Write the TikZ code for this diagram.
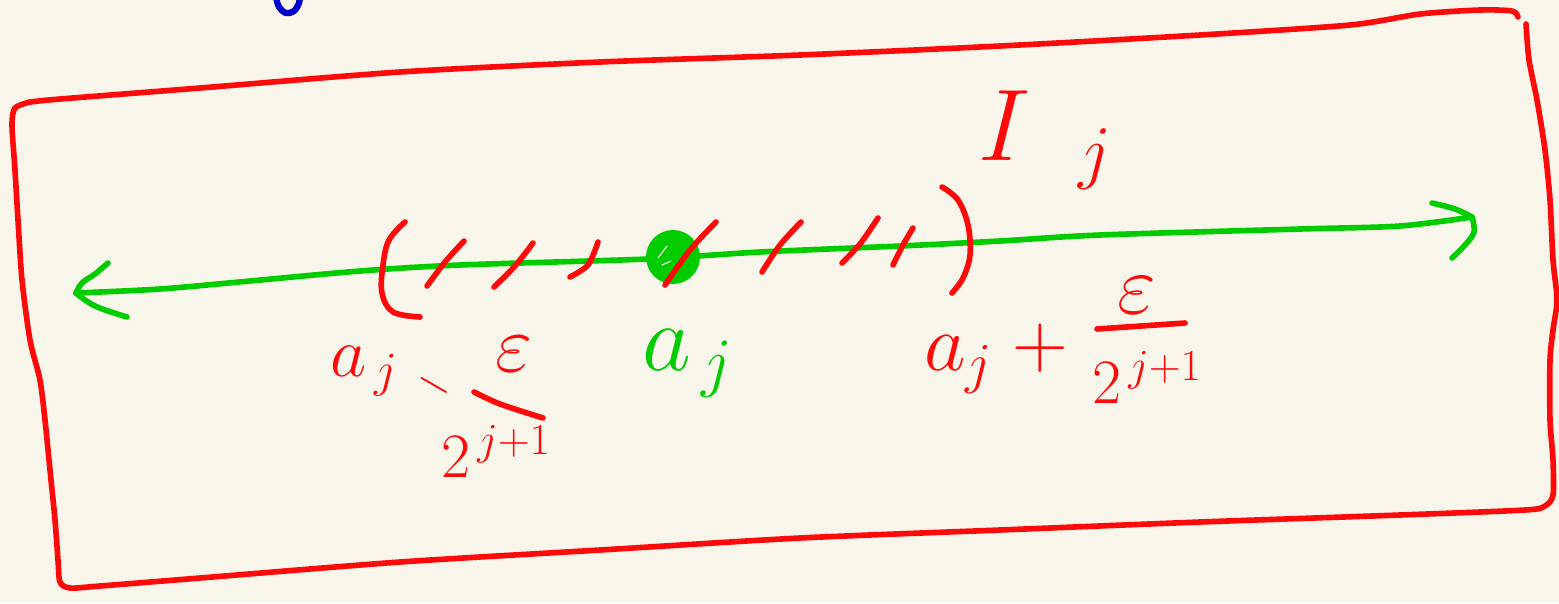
\RequirePackage{fix-cm}
\documentclass[tikz,border=0pt]{standalone}
\usepackage{amsmath}
\definecolor{bg}{HTML}{F8F6EA}
\definecolor{penred}{HTML}{FF0A0A}
\definecolor{pengreen}{HTML}{00CC00}
\definecolor{penblue}{HTML}{0000CC}
\begin{document}
\begin{tikzpicture}[x=0.02cm,y=-0.02cm,
  stroke/.style={line width=3.2pt,line cap=round,line join=round},
  redink/.style={stroke,draw=penred},
  greenink/.style={stroke,draw=pengreen},
  lbl/.style={inner sep=0pt,outer sep=0pt}]
\fill[bg] (0,0) rectangle (1559,603);
\useasboundingbox (0,0) rectangle (1559,603);
% blue fragment at top
\begin{scope}
\clip (0,0) rectangle (1559,603);
\draw[stroke,draw=penblue,line width=3.6pt] plot[smooth,tension=0.6] coordinates {(276,-3) (279,7) (286,13) (294,11) (299,3) (300,-4)};
\end{scope}
% red frame
\draw[redink] plot[smooth,tension=0.45] coordinates {(30,102) (60,99) (200,88) (400,72) (600,62) (800,55) (1000,46) (1200,35) (1350,25) (1420,14) (1480,10) (1512,11) (1518,17)};
\draw[redink] plot[smooth,tension=0.45] coordinates {(1526,24) (1529,60) (1537,100) (1545,150) (1550,200) (1553,260) (1557,300) (1553,330) (1550,360) (1550,420) (1553,460) (1553,495) (1545,506) (1525,510) (1400,515) (1200,522) (1000,530) (800,538) (600,550) (400,562) (200,578) (100,586) (70,588) (60,582) (58,560) (55,520) (50,470) (45,420) (40,380) (30,340) (22,280) (18,220) (15,170) (12,125) (15,108) (30,102)};
% green number line
\coordinate (Lend) at (76,293);
\coordinate (Rend) at (1472,217);
\draw[greenink] plot[smooth,tension=0.5] coordinates {(Lend) (160,289) (250,281) (360,271) (460,265) (647,259) (760,252) (900,246) (1000,241) (1100,235) (1300,229) (1400,226) (Rend)};
\draw[greenink] plot[smooth,tension=0.6] coordinates {(108,263) (95,274) (82,283) (Lend)};
\draw[greenink] plot[smooth,tension=0.6] coordinates {(Lend) (95,306) (127,317)};
\draw[greenink] plot[smooth,tension=0.6] coordinates {(1432,203) (1455,209) (Rend)};
\draw[greenink] plot[smooth,tension=0.6] coordinates {(Rend) (1474,232) (1465,245) (1452,258)};
% green dot
\fill[pengreen] (673,257) circle (27);
\draw[draw=bg,line width=0.6pt,line cap=round] (658,258) -- (667,246);
\draw[draw=bg,line width=0.6pt,line cap=round] (662,265) -- (671,261);
% parentheses
\draw[redink] plot[smooth,tension=0.6] coordinates {(405,222) (389,240) (383,265) (382,293) (393,312) (420,317)};
\draw[redink] plot[smooth,tension=0.6] coordinates {(942,187) (958,200) (968,225) (970,255) (963,278) (952,293)};
% hatch marks
\draw[redink] plot[smooth] coordinates {(427,286) (445,262) (464,241)};
\draw[redink] plot[smooth] coordinates {(494,287) (515,266) (533,243)};
\draw[redink] plot[smooth] coordinates {(570,277) (588,265) (598,242)};
\draw[redink] plot[smooth] coordinates {(665,285) (690,250) (716,222)};
\draw[redink] plot[smooth] coordinates {(762,272) (780,245) (801,222)};
\draw[redink] plot[smooth] coordinates {(842,263) (860,244) (878,218)};
\draw[redink] plot[smooth] coordinates {(893,265) (903,245) (913,228)};
% left label: a_j - eps / 2^{j+1}
\node[lbl,text=penred,anchor=base west] (lblL) at (330,376) {\fontsize{40}{46}\selectfont $a_{\,j}$};
\node[lbl,text=penred,rotate=-30] (minusL) at (434,385) {\fontsize{28}{34}\selectfont $-$};
\node[lbl,text=penred] (numL) at (514,354) {\fontsize{46}{52}\selectfont $\varepsilon$};
\coordinate (barLa) at (474,392);
\coordinate (barLb) at (543,418);
\draw[redink] plot[smooth,tension=0.5] coordinates {(barLa) (500,404) (barLb)};
\node[lbl,text=penred] (denL) at (496,451) {\fontsize{36}{42}\selectfont $2^{\,j+1}$};
% centre label
\node[lbl,text=pengreen,anchor=base west] (lblC) at (642,370) {\fontsize{54}{60}\selectfont $a_{\,j}$};
% right label: a_j + eps / 2^{j+1}
\node[lbl,text=penred,anchor=base west] (lblR) at (924,370) {\fontsize{46}{52}\selectfont $a_j$};
\node[lbl,text=penred] (plusR) at (1040,348) {\fontsize{44}{50}\selectfont $+$};
\node[lbl,text=penred] (numR) at (1137,295) {\fontsize{48}{54}\selectfont $\varepsilon$};
\coordinate (barRa) at (1097,329);
\coordinate (barRb) at (1185,323);
\draw[redink] (barRa) -- (barRb);
\node[lbl,text=penred] (denR) at (1147,377) {\fontsize{36}{42}\selectfont $2^{\,j+1}$};
% interval name
\node[lbl,text=penred,anchor=base west] (lblI) at (978,160) {\fontsize{58}{64}\selectfont $I_{\hspace{0.55em}j}$};
\end{tikzpicture}
\end{document}
